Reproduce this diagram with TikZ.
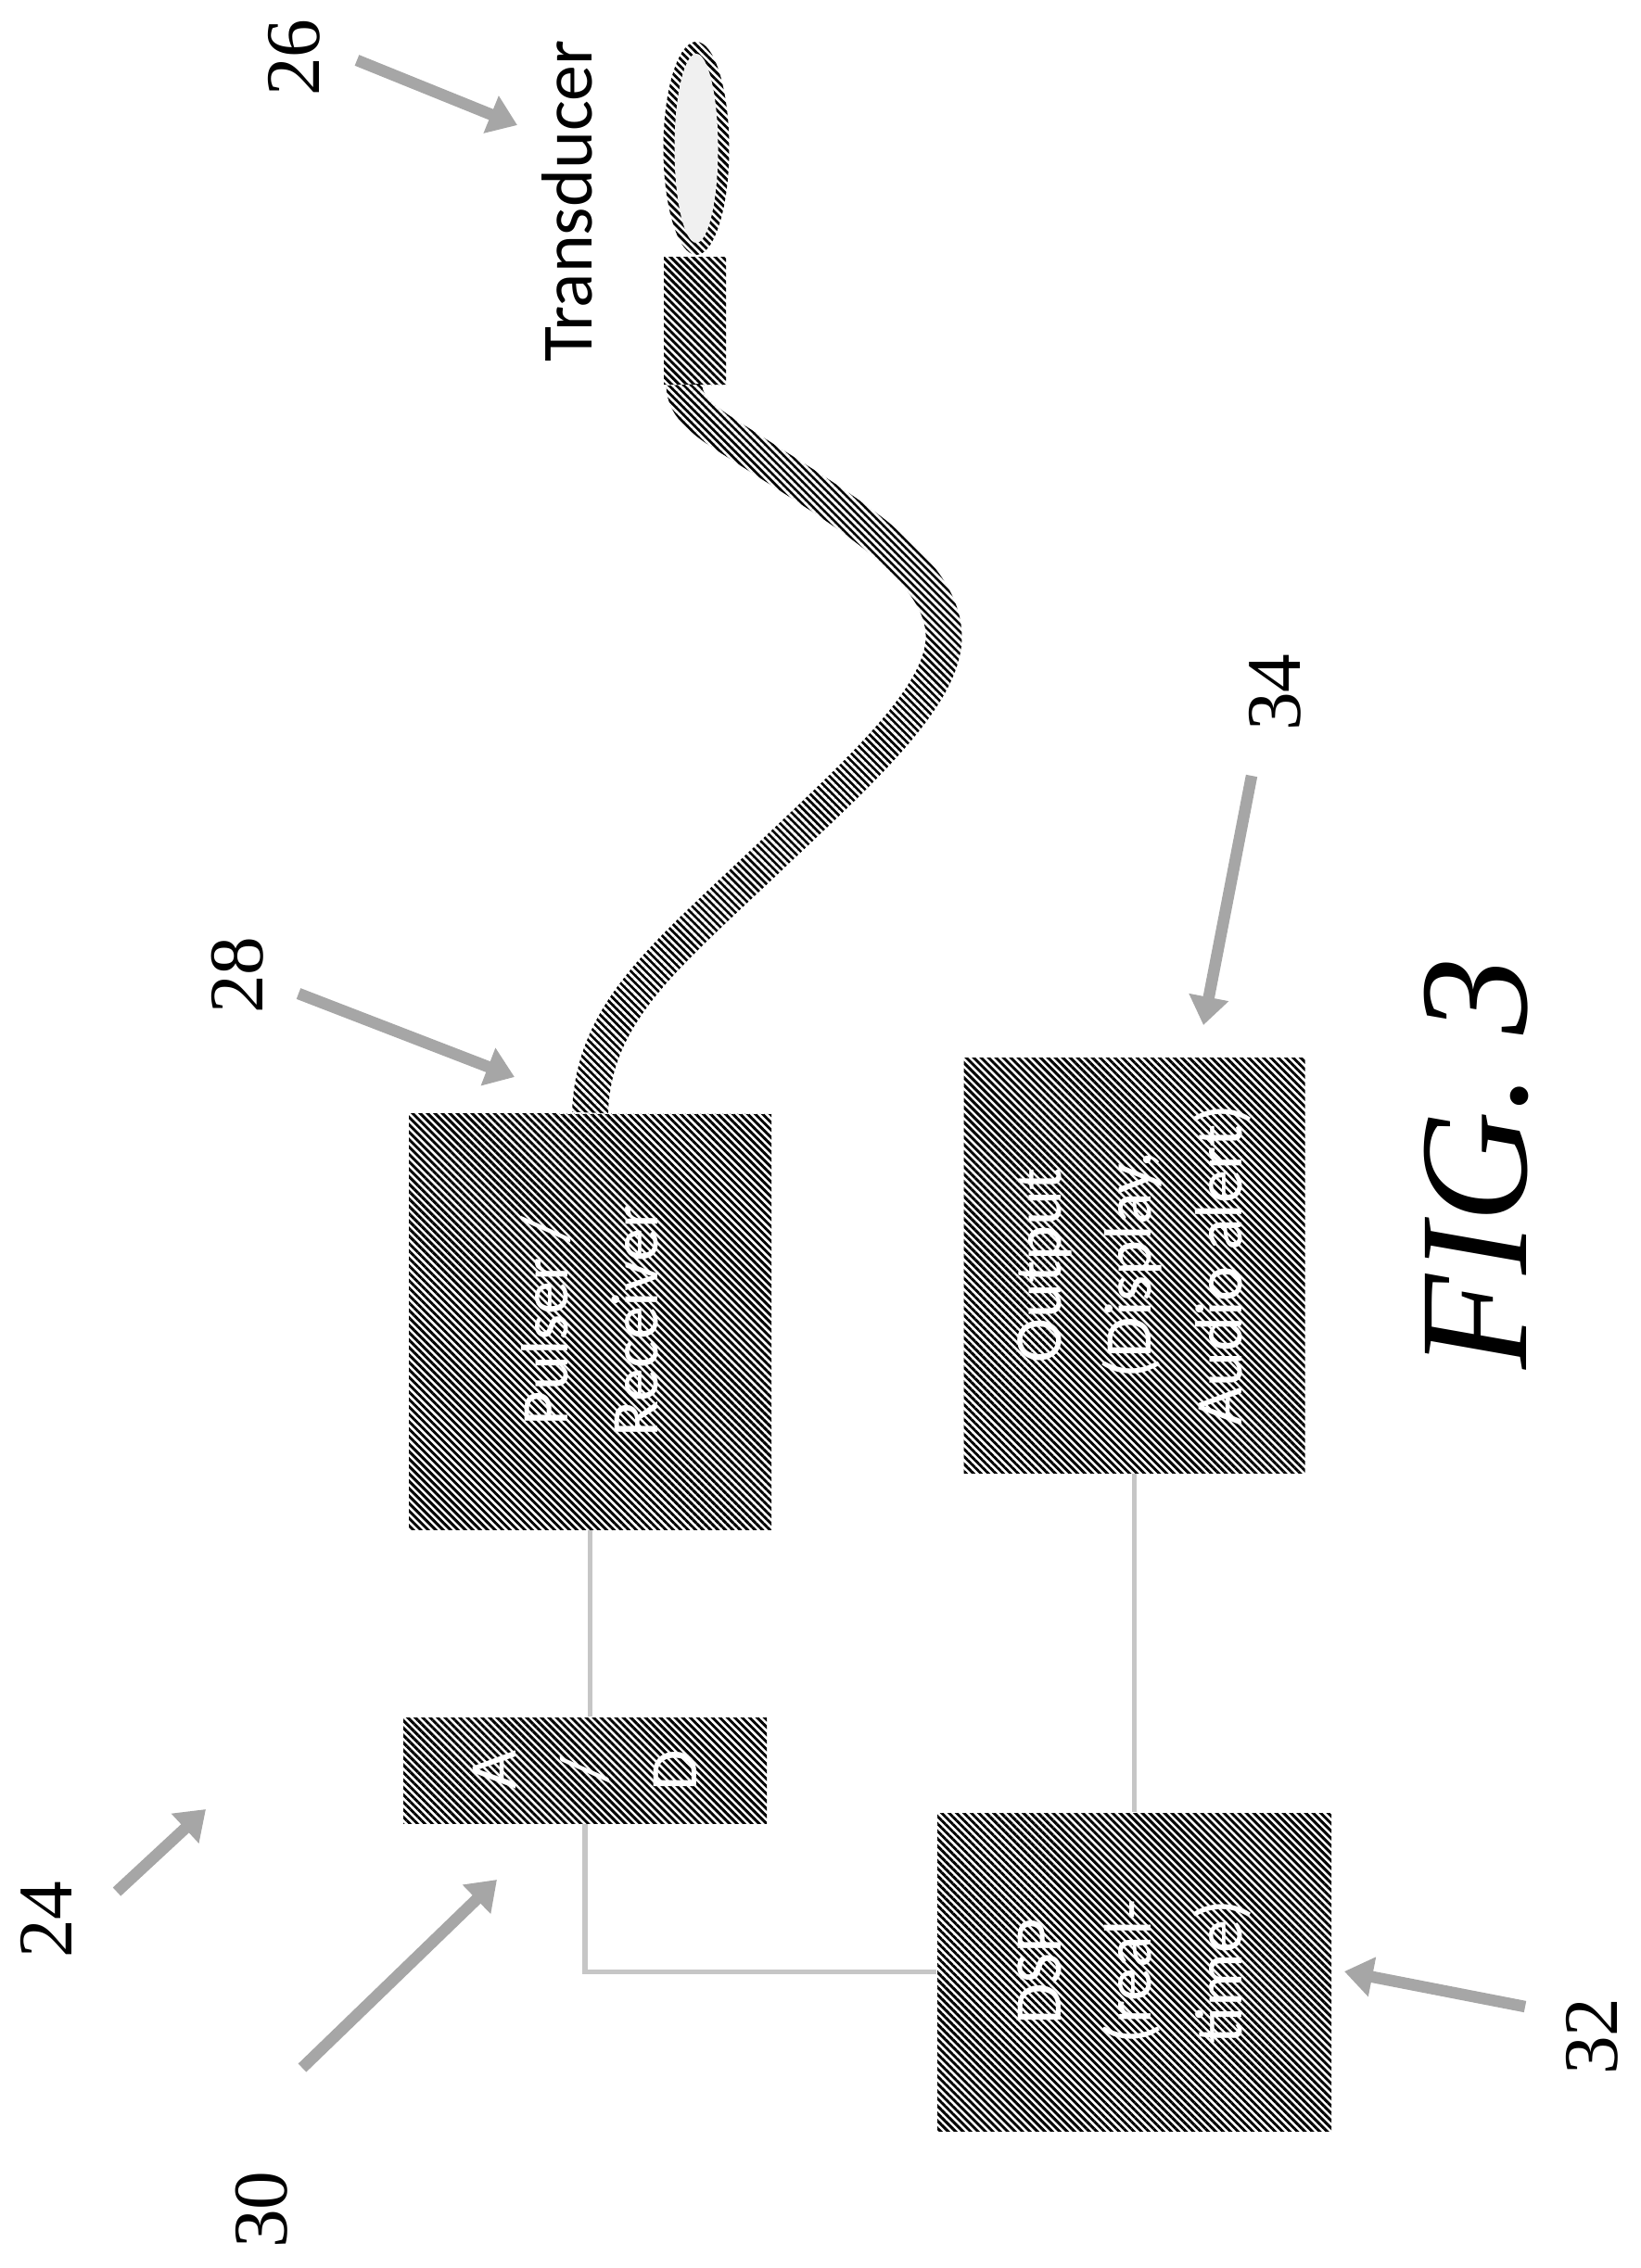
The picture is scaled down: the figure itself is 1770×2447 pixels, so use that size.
\documentclass[tikz,border=0pt]{standalone}
\usepackage{fontspec}
\setmainfont{Liberation Serif}
\newfontfamily\boxfont{Carlito}
\usetikzlibrary{positioning,shapes.geometric,arrows.meta,patterns.meta}

\tikzset{
    hatch/.style={pattern={Lines[angle=-45,distance=2.04pt,line width=1.05pt]}, pattern color=black},
    blockbox/.style={hatch, rotate=90, inner sep=0pt, align=center, text=white,
        font=\boxfont\fontsize{26}{35}\selectfont},
    refnum/.style={rotate=90, inner sep=0pt, font=\fontsize{30}{32}\selectfont},
    refarrow/.style={-{Triangle[length=11pt,width=15pt]}, draw=gray!70, line width=4.5pt},
    wire/.style={draw=gray!45, line width=2pt}
}

\begin{document}
\begin{tikzpicture}[x=0.36pt, y=-0.36pt]
    \useasboundingbox (0,0) rectangle (1770,2447);

    % Transducer
    \node[ellipse, hatch, minimum width=71*0.36pt, minimum height=230*0.36pt, inner sep=0pt] (tip) at (751,160) {};
    \node[ellipse, fill=gray!12, minimum width=47*0.36pt, minimum height=204*0.36pt, inner sep=0pt] (tipin) at (751,160) {};
    \node[hatch, minimum width=67*0.36pt, minimum height=138*0.36pt, inner sep=0pt] (probe) at (749.5,346) {};
    \node[rotate=90, font=\boxfont\fontsize{28}{32}\selectfont, inner sep=0pt] (probename) at (612,217) {Transducer};

    % Blocks
    \node[blockbox, minimum width=449*0.36pt, minimum height=391*0.36pt] (pulser) at (636.5,1425.5) {Pulser /\\Receiver};
    \node[blockbox, minimum width=114*0.36pt, minimum height=392*0.36pt] (ad) at (631,1910) {A\\/\\D};
    \node[blockbox, minimum width=343*0.36pt, minimum height=425*0.36pt] (dsp) at (1223.5,2127.5) {DSP\\(real-\\time)};
    \node[blockbox, minimum width=448*0.36pt, minimum height=368*0.36pt] (output) at (1223.5,1365) {Output\\(Display,\\Audio alert)};

    % Cable, stroked black and then cut into stripes
    \coordinate (cableend) at (738,415);
    \draw[line width=14pt] (pulser.east) .. controls (640,1090) and (720,1030) .. (835,920)
        .. controls (930,830) and (1018,750) .. (1018,687)
        .. controls (1018,610) and (900,545) .. (800,480)
        .. controls (760,455) and (738,440) .. (cableend);
    \fill[pattern={Lines[angle=-45,distance=2.04pt,line width=1pt]}, pattern color=white] (600,415) rectangle (1039,1201);

    % Wires
    \draw[wire] (pulser.west) -- (pulser.west |- ad.east);
    \draw[wire] (ad.west) |- (dsp.north);
    \draw[wire] (output.west) -- (dsp.east);

    % Reference numerals
    \node[refnum] (n26) at (317,62) {26};
    \node[refnum] (n28) at (256,1052) {28};
    \node[refnum] (n34) at (1375,747) {34};
    \node[refnum] (n24) at (50,2071) {24};
    \node[refnum] (n30) at (282,2384) {30};
    \node[refnum] (n32) at (1717,2197) {32};

    \coordinate (a26) at (385,65);
    \coordinate (b26) at (558,135);
    \coordinate (a28) at (322,1072);
    \coordinate (b28) at (555,1162);
    \coordinate (a34) at (1350,837);
    \coordinate (b34) at (1298,1106);
    \coordinate (a24) at (126,2041);
    \coordinate (b24) at (222,1952);
    \coordinate (a30) at (326,2231);
    \coordinate (b30) at (536,2028);
    \coordinate (a32) at (1645,2165);
    \coordinate (b32) at (1450,2127);
    \foreach \k in {26,28,34,24,30,32}
        \draw[refarrow] (a\k) -- (b\k);

    \node[rotate=90, inner sep=0pt, font=\itshape\fontsize{60}{66}\selectfont] (figname) at (1592,1255) {FIG. 3};
\end{tikzpicture}
\end{document}
